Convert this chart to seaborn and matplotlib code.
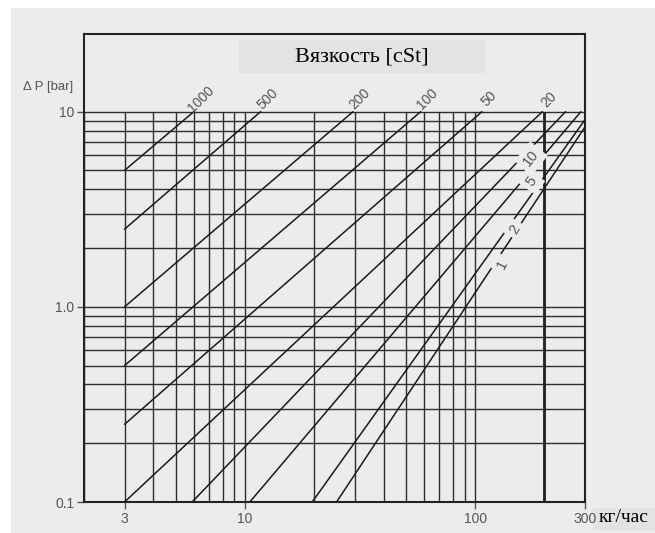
import numpy as np
import pandas as pd
import matplotlib.pyplot as plt
import seaborn as sns
from matplotlib.patches import Rectangle
from matplotlib.ticker import NullLocator

# Вязкость [cSt] -> точки начала и конца каждой прямой (кг/час, bar)
visc = [1000, 500, 200, 100, 50, 20, 10, 5, 2, 1]
q_start = [3, 3, 3, 3, 3, 3, 5.9, 10.5, 19.6, 25]
dp_start = [5, 2.5, 1.0, 0.5, 0.25, 0.1, 0.1, 0.1, 0.1, 0.1]
q_end = [6, 11.7, 29.5, 58, 107, 196, 247, 288, 300, 300]
dp_end = [10, 10, 10, 10, 10, 10, 10, 10, 9.1, 8.35]

# подписи у верхнего края и на самих линиях
top_labels = ["1000", "500", "200", "100", "50", "20"]
inline_labels = ["10", "5", "2", "1"]
inline_q = [169, 169, 144, 126.5]

grid_q = [2, 3, 4, 5, 6, 7, 8, 9, 10, 20, 30, 40, 50, 60, 70, 80, 90, 100, 200, 300]
grid_dp = [0.1, 0.2, 0.3, 0.4, 0.5, 0.6, 0.7, 0.8, 0.9,
           1, 2, 3, 4, 5, 6, 7, 8, 9, 10]

x_ticks = [3, 10, 100, 300]
x_ticklabels = ["3", "10", "100", "300"]
y_ticks = [0.1, 1, 10]
y_ticklabels = ["0.1", "1.0", "10"]

df = pd.DataFrame({
    "visc": visc + visc,
    "Q": q_start + q_end,
    "dP": dp_start + dp_end,
})

sns.set_theme(style="white")
plt.rcParams["font.family"] = ["Liberation Sans", "DejaVu Sans"]

bg = "#ececec"
fig = plt.figure(figsize=(6.55, 5.33), dpi=100)
fig.patch.set_facecolor("white")
fig.patches.append(Rectangle((11 / 655, 0), 1, 1 - 8 / 533, transform=fig.transFigure,
                             facecolor=bg, edgecolor="none", zorder=-10))

ax = fig.add_axes([84 / 655, 1 - 502 / 533, 501 / 655, 468 / 533])
ax.set_facecolor(bg)
ax.set_xscale("log")
ax.set_yscale("log")
ax.set_xlim(2, 300)
ax.set_ylim(0.1, 25)

# сетка только до 10 bar
ax.hlines(grid_dp, 2, 300, color="#2e2e2e", lw=1.0, zorder=1)
ax.vlines(grid_q, 0.1, 10, color="#2e2e2e", lw=1.0, zorder=1)
ax.vlines([200], 0.1, 10, color="#222222", lw=2.0, zorder=1)

sns.lineplot(data=df, x="Q", y="dP", units="visc", estimator=None,
             color="#1a1a1a", lw=1.1, legend=False, ax=ax, zorder=3)

# подписи у верхнего края
for lab, q in zip(top_labels, q_end):
    ax.annotate(lab, xy=(q, 10), xytext=(5, 9), textcoords="offset points",
                ha="center", va="center", rotation=45, fontsize=10, color="#555555")

# подписи на линиях (с разрывом линии)
for lab, v, q in zip(inline_labels, visc[6:], inline_q):
    i = visc.index(v)
    lq0, lq1 = np.log10(q_start[i]), np.log10(q_end[i])
    lp0, lp1 = np.log10(dp_start[i]), np.log10(dp_end[i])
    dp = 10 ** (lp0 + (np.log10(q) - lq0) * (lp1 - lp0) / (lq1 - lq0))
    p0 = ax.transData.transform((q_start[i], dp_start[i]))
    p1 = ax.transData.transform((q_end[i], dp_end[i]))
    ang = np.degrees(np.arctan2(p1[1] - p0[1], p1[0] - p0[0]))
    ax.annotate(lab, xy=(q, dp), xytext=(2.5, -5), textcoords="offset points",
                ha="center", va="center", rotation=ang + 5, rotation_mode="anchor",
                fontsize=10.5, color="#555555", zorder=4,
                bbox=dict(boxstyle="square,pad=0.3", facecolor=bg, edgecolor="none"))

ax.set_xticks(x_ticks)
ax.set_xticklabels(x_ticklabels)
ax.set_yticks(y_ticks)
ax.set_yticklabels(y_ticklabels)
ax.xaxis.set_minor_locator(NullLocator())
ax.yaxis.set_minor_locator(NullLocator())
ax.tick_params(axis="both", which="major", bottom=True, left=True, direction="out",
               length=5, width=1, color="#555555", labelcolor="#555555",
               labelsize=10, pad=2)
ax.set_xlabel("")
ax.set_ylabel("")

for s in ax.spines.values():
    s.set_color("#222222")
    s.set_linewidth(1.5)
    s.set_visible(True)

# заголовок в сером блоке
ax.add_patch(Rectangle((155 / 501, 1 - 39 / 468), 247 / 501, 33 / 468, transform=ax.transAxes,
                       facecolor="#e3e3e3", edgecolor="none", zorder=5))
ax.text((362 - 84) / 501, 1 - (57 - 34) / 468, "Вязкость [cSt]", transform=ax.transAxes,
        ha="center", va="center", fontsize=16, family=["Liberation Serif", "DejaVu Serif"],
        color="black", zorder=6)

fig.text(48 / 655, 1 - 87 / 533, "Δ P [bar]", ha="center", va="center",
         fontsize=9.5, color="#555555")

fig.patches.append(Rectangle((593 / 655, 1 - 530 / 533), 62 / 655, 22 / 533,
                             transform=fig.transFigure, facecolor="#e3e3e3",
                             edgecolor="none", zorder=-5))
fig.text(624 / 655, 1 - 517 / 533, "кг/час", ha="center", va="center", fontsize=14,
         family=["Liberation Serif", "DejaVu Serif"], color="black")

plt.savefig("out.png", dpi=100, facecolor=fig.get_facecolor())
plt.close()
